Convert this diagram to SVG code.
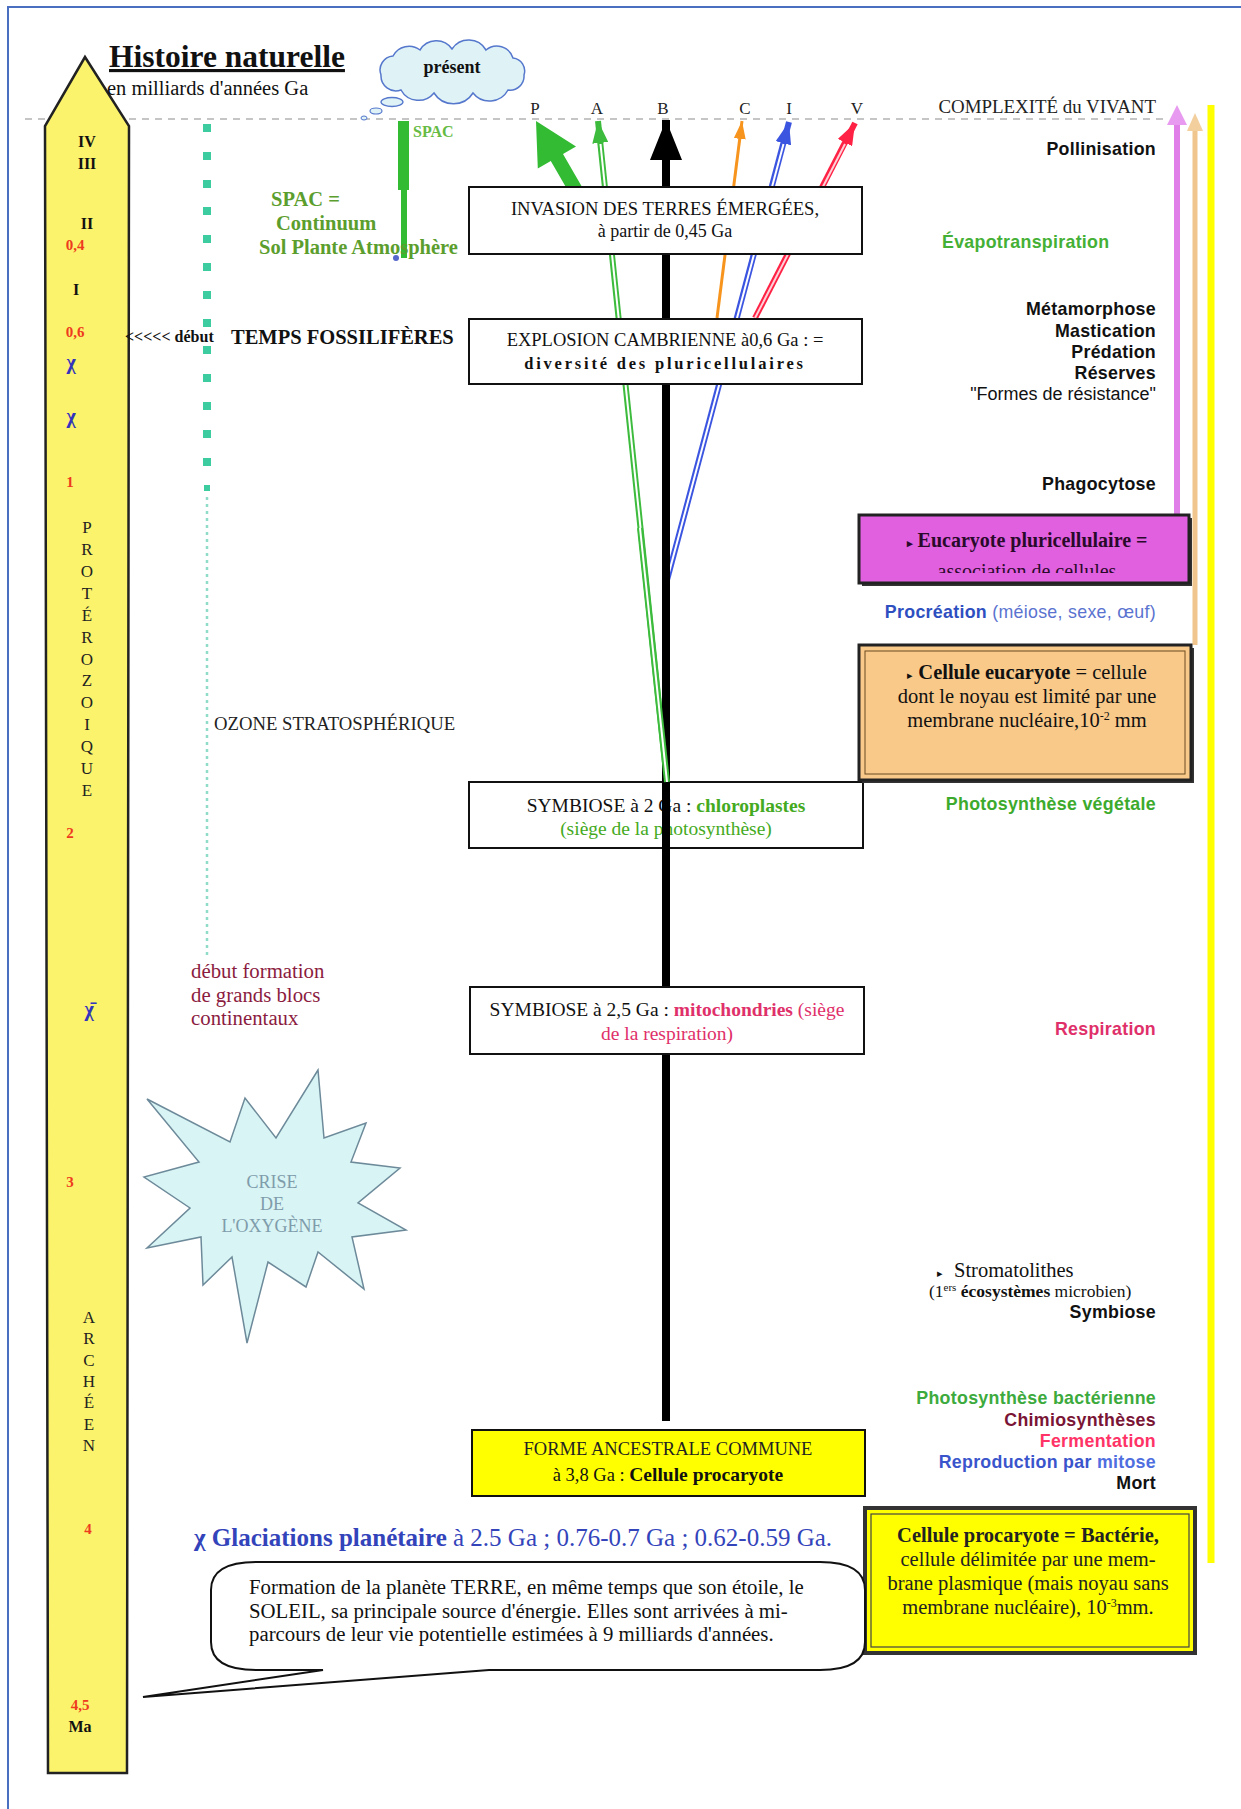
<svg xmlns="http://www.w3.org/2000/svg" width="1241" height="1809" viewBox="0 0 1241 1809">
<style>
.s{font-family:"Liberation Serif","Times New Roman",serif}
.a{font-family:"Liberation Sans",Arial,sans-serif}
.b{font-weight:bold}
.m{text-anchor:middle}
.box{fill:#fff;stroke:#111;stroke-width:2}
.rl{font-family:"Liberation Sans",Arial,sans-serif;font-weight:bold;font-size:17.8px;text-anchor:end;letter-spacing:0.3px}
.red{fill:#ee3a1e;font-weight:bold;font-size:15px}
.rom{font-weight:bold;font-size:16px;fill:#111}
.chi{fill:#3333bb;font-weight:bold;font-size:20px}
.let{font-size:17px;fill:#222}
</style>
<defs>
<clipPath id="clipPurple"><rect x="861" y="517" width="326" height="56"/></clipPath>
<marker id="hG" viewBox="0 0 22 16" refX="22" refY="8" markerWidth="22" markerHeight="16" markerUnits="userSpaceOnUse" orient="auto"><path d="M0,0 L22,8 L0,16 Z" fill="#3cbb3c"/></marker>
<marker id="hBl" viewBox="0 0 22 16" refX="22" refY="8" markerWidth="22" markerHeight="16" markerUnits="userSpaceOnUse" orient="auto"><path d="M0,0 L22,8 L0,16 Z" fill="#3b55e0"/></marker>
<marker id="hR" viewBox="0 0 22 16" refX="22" refY="8" markerWidth="22" markerHeight="16" markerUnits="userSpaceOnUse" orient="auto"><path d="M0,0 L22,8 L0,16 Z" fill="#ff2244"/></marker>
<marker id="hO" viewBox="0 0 18 12" refX="18" refY="6" markerWidth="18" markerHeight="12" markerUnits="userSpaceOnUse" orient="auto"><path d="M0,0 L18,6 L0,12 Z" fill="#f7941d"/></marker>
<marker id="hK" viewBox="0 0 40 32" refX="40" refY="16" markerWidth="40" markerHeight="32" markerUnits="userSpaceOnUse" orient="auto"><path d="M0,0 L40,16 L0,32 Z" fill="#000"/></marker>
</defs>

<rect x="0" y="0" width="1241" height="1809" fill="#fff"/>
<path d="M8,1809 V7 H1241" fill="none" stroke="#4a6fc0" stroke-width="2"/>

<line x1="25" y1="119" x2="1165" y2="119" stroke="#b3b3b3" stroke-width="1.5" stroke-dasharray="7 6"/>

<!-- timeline column -->
<g id="timeline">
<path d="M85,57 L129,126 L127,1773 L48,1773 L45,126 Z" fill="#fbf36b" stroke="#222" stroke-width="2.5"/>
<text x="87" y="147" class="s rom m">IV</text>
<text x="87" y="169" class="s rom m">III</text>
<text x="87" y="229" class="s rom m">II</text>
<text x="75" y="250" class="s red m">0,4</text>
<text x="76" y="295" class="s rom m">I</text>
<text x="75" y="337" class="s red m">0,6</text>
<text x="71" y="369" class="s chi m">χ</text>
<text x="71" y="423" class="s chi m">χ</text>
<text x="70" y="487" class="s red m">1</text>
<g class="s let m">
<text x="87" y="533">P</text><text x="87" y="555">R</text><text x="87" y="577">O</text><text x="87" y="599">T</text><text x="87" y="621">É</text><text x="87" y="643">R</text><text x="87" y="665">O</text><text x="87" y="686">Z</text><text x="87" y="708">O</text><text x="87" y="730">I</text><text x="87" y="752">Q</text><text x="87" y="774">U</text><text x="87" y="796">E</text>
</g>
<text x="70" y="838" class="s red m">2</text>
<text x="89" y="1016" class="s chi m">χ̄</text>
<text x="70" y="1187" class="s red m">3</text>
<g class="s let m">
<text x="89" y="1323">A</text><text x="89" y="1344">R</text><text x="89" y="1366">C</text><text x="89" y="1387">H</text><text x="89" y="1408">É</text><text x="89" y="1430">E</text><text x="89" y="1451">N</text>
</g>
<text x="88" y="1534" class="s red m">4</text>
<text x="80" y="1710" class="s red m">4,5</text>
<text x="80" y="1732" class="s rom m" font-size="15">Ma</text>
</g>

<g id="title">
<text x="109" y="67" class="s b" font-size="31.5" fill="#111" text-decoration="underline">Histoire naturelle</text>
<text x="107" y="95" class="s" font-size="20.5" fill="#111">en milliards d'années Ga</text>
</g>

<g id="cloud-present">
<path d="M381,75 A14,14 0 0 1 393,56 A18,18 0 0 1 420,50 A19,19 0 0 1 452,49 A20,20 0 0 1 486,50 A17,17 0 0 1 513,58 A13,13 0 0 1 524,75 A14,14 0 0 1 508,90 A21,21 0 0 1 473,93 A23,23 0 0 1 434,93 A20,20 0 0 1 401,90 A15,15 0 0 1 381,75 Z" fill="#dff3f7" stroke="#5577cc" stroke-width="1.5"/>
<ellipse cx="392" cy="102" rx="11" ry="4.5" fill="#dff3f7" stroke="#5577cc" stroke-width="1.3"/>
<ellipse cx="376" cy="111" rx="6" ry="3" fill="#dff3f7" stroke="#5577cc" stroke-width="1.2"/>
<ellipse cx="364" cy="118" rx="3" ry="2" fill="#dff3f7" stroke="#5577cc" stroke-width="1"/>
<text x="452" y="73" class="s b m" font-size="18" fill="#111">présent</text>
</g>

<g id="top-labels" class="s m" font-size="17" fill="#222">
<text x="535" y="114">P</text><text x="597" y="114">A</text><text x="663" y="114">B</text><text x="745" y="114">C</text><text x="789" y="114">I</text><text x="857" y="114">V</text>
</g>

<g id="ozone-line">
<g fill="#3dcca0">
<rect x="203" y="124" width="8" height="8"/><rect x="203" y="152" width="8" height="8"/><rect x="203" y="180" width="8" height="8"/><rect x="203" y="207" width="8" height="8"/><rect x="203" y="235" width="8" height="8"/><rect x="203" y="263" width="8" height="8"/><rect x="203" y="291" width="8" height="8"/><rect x="203" y="319" width="8" height="8"/><rect x="203" y="346" width="8" height="8"/><rect x="203" y="374" width="8" height="8"/><rect x="203" y="402" width="8" height="8"/><rect x="203" y="430" width="8" height="8"/><rect x="203" y="458" width="8" height="8"/><rect x="204" y="485" width="6" height="6"/>
</g>
<line x1="207" y1="497" x2="207" y2="957" stroke="#8fdcc8" stroke-width="2.5" stroke-dasharray="3 4"/>
<text x="214" y="730" class="s" font-size="18.7" fill="#222">OZONE STRATOSPHÉRIQUE</text>
</g>

<g id="spac">
<rect x="398" y="121" width="11" height="69" fill="#33bb33"/>
<rect x="401" y="190" width="6" height="68" fill="#33bb33"/>
<circle cx="396" cy="258" r="3" fill="#5566cc"/>
<text x="413" y="137" class="s b" font-size="16" fill="#66bb44">SPAC</text>
<g class="s b" font-size="20.5" fill="#5c9e2e">
<text x="271" y="206">SPAC =</text>
<text x="276" y="230">Continuum</text>
<text x="259" y="254">Sol Plante Atmosphère</text>
</g>
</g>

<g id="fossil">
<text x="125" y="342" class="s b" font-size="16" fill="#111">&lt;&lt;&lt;&lt;&lt; début</text>
<text x="231" y="344" class="s b" font-size="20.5" fill="#111">TEMPS FOSSILIFÈRES</text>
</g>

<g id="continents" class="s" font-size="20.8" fill="#8b1c40">
<text x="191" y="978">début formation</text>
<text x="191" y="1002">de grands blocs</text>
<text x="191" y="1025">continentaux</text>
</g>

<g id="crise-oxygene">
<polygon points="318,1070 276,1138 245,1098 230,1142 147,1099 199,1162 144,1177 190,1208 147,1248 201,1237 203,1285 232,1257 247,1343 268,1262 306,1287 318,1252 364,1289 352,1237 406,1230 358,1203 400,1168 351,1162 366,1123 324,1138" fill="#d8f4f4" stroke="#6d8a9a" stroke-width="1.5"/>
<g class="s m" font-size="18" fill="#7f9cab">
<text x="272" y="1188">CRISE</text>
<text x="272" y="1210">DE</text>
<text x="272" y="1232">L'OXYGÈNE</text>
</g>
</g>

<!-- box behind black line -->
<g id="symbiose-2ga">
<rect x="469" y="782" width="394" height="66" class="box"/>
<text x="666" y="812" class="s m" font-size="19.5" fill="#111">SYMBIOSE à 2 Ga : <tspan class="b" fill="#44aa22">chloroplastes</tspan></text>
<text x="666" y="835" class="s m" font-size="19.5" fill="#44aa22">(siège de la photosynthèse)</text>
</g>

<g id="connectors">
<polygon points="536,121 576,146.4 563,153.9 584.1,190.5 571.9,197.5 550.8,160.9 537.8,168.4" fill="#33bb33"/>
<path d="M667,782 L598,121" stroke="#3cbb3c" stroke-width="6" fill="none" marker-end="url(#hG)"/>
<path d="M667,782 L600.5,144" stroke="#fff" stroke-width="2" fill="none"/>
<path d="M717,318 L742,121" stroke="#f7941d" stroke-width="3" fill="none" marker-end="url(#hO)"/>
<path d="M667,580 L789,122" stroke="#3b55e0" stroke-width="6" fill="none" marker-end="url(#hBl)"/>
<path d="M667,580 L783.5,144" stroke="#fff" stroke-width="2" fill="none"/>
<path d="M755,318 L855,123" stroke="#ff2244" stroke-width="6" fill="none" marker-end="url(#hR)"/>
<path d="M755,318 L845,144" stroke="#ffd0d8" stroke-width="2" fill="none"/>
<path d="M666,1421 L666,120" stroke="#000" stroke-width="8" fill="none" marker-end="url(#hK)"/>
<path d="M667,782 L640,528" stroke="#3cbb3c" stroke-width="6" fill="none"/>
<path d="M667,782 L640,528" stroke="#fff" stroke-width="2" fill="none"/>
<!-- right complexity arrows -->
<line x1="1177" y1="515" x2="1177" y2="124" stroke="#e07fe8" stroke-width="6"/>
<polygon points="1177,105 1187,125 1167,125" fill="#e89af0"/>
<line x1="1195" y1="645" x2="1195" y2="130" stroke="#f1c68e" stroke-width="5"/>
<polygon points="1195,113 1203,131 1187,131" fill="#f3cf9e"/>
<line x1="1211" y1="105" x2="1211" y2="1563" stroke="#ffff00" stroke-width="7"/>
</g>

<g id="invasion">
<rect x="469" y="187" width="393" height="67" class="box"/>
<text x="665" y="215" class="s m" font-size="18.6" fill="#111">INVASION DES TERRES ÉMERGÉES,</text>
<text x="665" y="237" class="s m" font-size="18" fill="#111">à partir de 0,45 Ga</text>
</g>

<g id="explosion">
<rect x="469" y="319" width="393" height="65" class="box"/>
<text x="665" y="346" class="s m" font-size="18.5" fill="#111">EXPLOSION CAMBRIENNE à0,6 Ga : =</text>
<text x="665" y="369" class="s b m" font-size="16.5" letter-spacing="2.8" fill="#111">diversité des pluricellulaires</text>
</g>

<g id="symbiose-25ga">
<rect x="470" y="987" width="394" height="67" class="box"/>
<text x="667" y="1016" class="s m" font-size="19.5" fill="#111">SYMBIOSE à 2,5 Ga : <tspan class="b" fill="#e0306a">mitochondries</tspan><tspan fill="#e0306a"> (siège</tspan></text>
<text x="667" y="1040" class="s m" font-size="19.5" fill="#e0306a">de la respiration)</text>
</g>

<g id="forme-ancestrale">
<rect x="472" y="1430" width="393" height="66" fill="#ffff00" stroke="#111" stroke-width="2"/>
<text x="668" y="1455" class="s m" font-size="18.5" fill="#222">FORME ANCESTRALE COMMUNE</text>
<text x="668" y="1481" class="s m" font-size="18.5" fill="#111">à 3,8 Ga : <tspan class="b" font-size="19.5">Cellule procaryote</tspan></text>
</g>

<g id="right-labels">
<text x="1156" y="113" class="s" font-size="18.9" text-anchor="end" fill="#222">COMPLEXITÉ du VIVANT</text>
<text x="1156" y="155" class="rl" fill="#111">Pollinisation</text>
<text x="942" y="248" class="a b" font-size="17.8" letter-spacing="0.3" fill="#44b035">Évapotranspiration</text>
<text x="1156" y="315" class="rl" fill="#111">Métamorphose</text>
<text x="1156" y="337" class="rl" fill="#111">Mastication</text>
<text x="1156" y="358" class="rl" fill="#111">Prédation</text>
<text x="1156" y="379" class="rl" fill="#111">Réserves</text>
<text x="1156" y="400" class="a" font-size="18" text-anchor="end" fill="#111">"Formes de résistance"</text>
<text x="1156" y="490" class="rl" fill="#111">Phagocytose</text>
<text x="1156" y="618" class="rl" fill="#2e4fc0">Procréation <tspan font-weight="normal" fill="#5a73d0">(méiose, sexe, œuf)</tspan></text>
<text x="1156" y="810" class="rl" fill="#3caa2c">Photosynthèse végétale</text>
<text x="1156" y="1035" class="rl" fill="#e0306a">Respiration</text>
<text x="937" y="1277" class="s" font-size="11" fill="#111">▸</text>
<text x="954" y="1277" class="s" font-size="20.5" fill="#111">Stromatolithes</text>
<text x="929" y="1297" class="s" font-size="17.5" fill="#111">(1<tspan dy="-6" font-size="11">ers</tspan><tspan dy="6" class="b"> écosystèmes</tspan> microbien)</text>
<text x="1156" y="1318" class="rl" fill="#111">Symbiose</text>
<text x="1156" y="1404" class="rl" fill="#3caa3c">Photosynthèse bactérienne</text>
<text x="1156" y="1426" class="rl" fill="#7a1535">Chimiosynthèses</text>
<text x="1156" y="1447" class="rl" fill="#ff3366">Fermentation</text>
<text x="1156" y="1468" class="rl" fill="#3a55cc">Reproduction par <tspan fill="#4f6ee0">mitose</tspan></text>
<text x="1156" y="1489" class="rl" fill="#111">Mort</text>
</g>

<g id="eucaryote-pluri">
<rect x="862" y="518" width="330" height="68" fill="#333"/>
<rect x="859" y="515" width="330" height="68" fill="#e060e0" stroke="#222" stroke-width="3"/>
<text x="1027" y="547" class="s b m" font-size="20" fill="#2a0a2a"><tspan font-size="11">▸</tspan> Eucaryote pluricellulaire =</text>
<text x="1027" y="578" class="s m" font-size="20" fill="#2a0a2a" clip-path="url(#clipPurple)">association de cellules</text>
</g>

<g id="cellule-eucaryote">
<rect x="862" y="648" width="332" height="135" fill="#333"/>
<rect x="859" y="645" width="332" height="135" fill="#f9c98a" stroke="#222" stroke-width="3"/>
<rect x="865" y="651" width="320" height="123" fill="none" stroke="#6b4a20" stroke-width="1"/>
<text x="1027" y="679" class="s m" font-size="20.5" fill="#111"><tspan font-size="11">▸</tspan> <tspan class="b">Cellule eucaryote</tspan> = cellule</text>
<text x="1027" y="703" class="s m" font-size="20.5" fill="#111">dont le noyau est limité par une</text>
<text x="1027" y="727" class="s m" font-size="20.5" fill="#111">membrane nucléaire,10<tspan dy="-7" font-size="12">-2</tspan><tspan dy="7"> mm</tspan></text>
</g>

<g id="cellule-procaryote">
<rect x="865" y="1508" width="330" height="145" fill="#ffff00" stroke="#333" stroke-width="4"/>
<rect x="871" y="1514" width="318" height="133" fill="none" stroke="#444" stroke-width="1.2"/>
<text x="1028" y="1542" class="s b m" font-size="20.5" fill="#222">Cellule procaryote = Bactérie,</text>
<text x="1028" y="1566" class="s m" font-size="20.5" fill="#222">cellule délimitée par une mem-</text>
<text x="1028" y="1590" class="s m" font-size="20.5" fill="#222">brane plasmique (mais noyau sans</text>
<text x="1028" y="1614" class="s m" font-size="20.5" fill="#222">membrane nucléaire), 10<tspan dy="-7" font-size="12">-3</tspan><tspan dy="7">mm.</tspan></text>
</g>

<g id="glaciations">
<text x="194" y="1546" class="s" font-size="25" fill="#3344bb"><tspan class="b">χ Glaciations planétaire</tspan> à 2.5 Ga ; 0.76-0.7 Ga ; 0.62-0.59 Ga.</text>
</g>

<g id="formation-terre">
<path d="M256,1562 H820 Q865,1562 865,1590 V1642 Q865,1670 820,1670 H489 L143,1697 L323,1670 H256 Q211,1670 211,1642 V1590 Q211,1562 256,1562 Z" fill="#fff" stroke="#111" stroke-width="2"/>
<g class="s" font-size="20.8" fill="#111">
<text x="249" y="1594">Formation de la planète TERRE, en même temps que son étoile, le</text>
<text x="249" y="1618">SOLEIL, sa principale source d'énergie. Elles sont arrivées à mi-</text>
<text x="249" y="1641">parcours de leur vie potentielle estimées à 9 milliards d'années.</text>
</g>
</g>
</svg>
